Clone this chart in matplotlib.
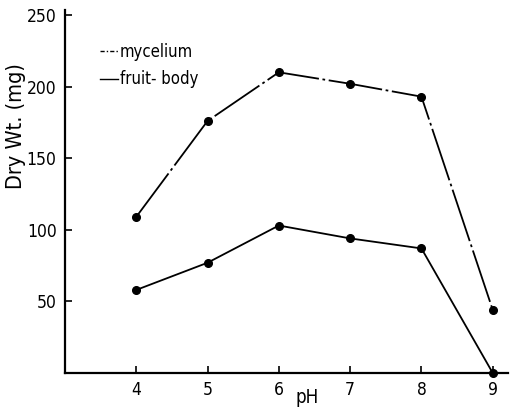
import matplotlib.pyplot as plt
from matplotlib.lines import Line2D

ph = [4, 5, 6, 7, 8, 9]
mycelium = [109, 176, 210, 202, 193, 44]
fruit_body = [58, 77, 103, 94, 87, 0]

x_ticks = [4, 5, 6, 7, 8, 9]
y_ticks = [50, 100, 150, 200, 250]

plt.rcParams["font.family"] = ["DejaVu Sans"]
plt.rcParams["font.stretch"] = "condensed"

fig = plt.figure(figsize=(5.11, 4.09), dpi=100)
ax = fig.add_axes([0.127, 0.088, 0.868, 0.8875])

# upper curve: mycelium (broken dash-dot), lower: fruit-body (solid)
ax.plot(ph, mycelium, color="black", lw=1.3, marker="o", ms=5.5,
        linestyle=(0, (30, 2, 1.5, 2)))
ax.plot(ph, fruit_body, color="black", lw=1.3, marker="o", ms=5.5,
        linestyle="-", clip_on=False)

ax.set_xlim(3, 9.22)
ax.set_ylim(0, 253.5)
ax.set_xticks(x_ticks)
ax.set_yticks(y_ticks)

for side in ("top", "right"):
    ax.spines[side].set_visible(False)
for side in ("left", "bottom"):
    ax.spines[side].set_linewidth(1.6)

ax.tick_params(direction="in", length=5, width=1.2, labelsize=12.5, pad=6)

ax.set_xlabel("pH", fontsize=13.5)
ax.xaxis.set_label_coords(0.546, -0.04)
ax.set_ylabel("Dry Wt. (mg)", fontsize=15.5)
ax.yaxis.set_label_coords(-0.088, 0.68)

handles = [
    Line2D([], [], color="black", lw=1.0, linestyle=(0, (3, 1.5, 1, 1.5))),
    Line2D([], [], color="black", lw=1.0, linestyle="-"),
]
ax.legend(handles, ["mycelium", "fruit- body"], loc="upper left",
          bbox_to_anchor=(0.045, 0.95), frameon=False, fontsize=12,
          handlelength=1.1, handletextpad=0.1, labelspacing=0.55)

fig.savefig("out.png", dpi=100)
